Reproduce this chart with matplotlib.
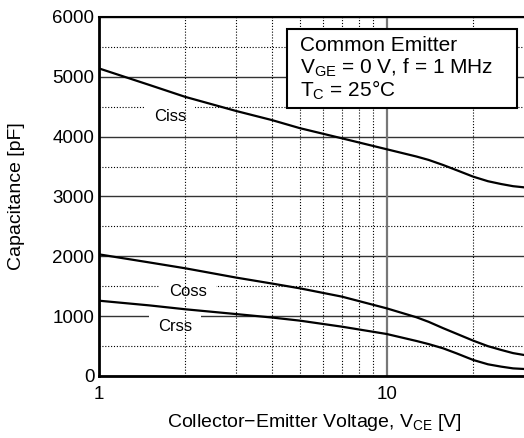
import numpy as np
import matplotlib
matplotlib.use('Agg')
import matplotlib.pyplot as plt
from matplotlib.patches import Rectangle
from matplotlib.ticker import FixedLocator, NullFormatter

plt.rcParams['font.family'] = ['Liberation Sans', 'DejaVu Sans']
plt.rcParams['mathtext.fontset'] = 'custom'
plt.rcParams['mathtext.rm'] = 'Liberation Sans'

# values
vce = [1, 1.5, 2, 3, 4, 5, 7, 10, 12.7, 14, 15.7, 17.5, 20, 22.5, 25, 27.5, 30]
ciss = [5143, 4865, 4665, 4430, 4277, 4142, 3972, 3790, 3668, 3611, 3527,
        3440, 3331, 3255, 3208, 3172, 3153]
coss = [2034, 1898, 1800, 1645, 1545, 1465, 1326, 1131, 981, 905, 800,
        706, 590, 498, 435, 382, 351]
crss = [1259, 1180, 1115, 1035, 977, 925, 824, 702, 585, 533, 463,
        378, 267, 195, 156, 127, 117]

labels = ['Ciss', 'Coss', 'Crss']
label_pos = [(1.77, 4329), (2.05, 1409), (1.846, 819)]

fig = plt.figure(figsize=(5.24, 4.38), dpi=100)
ax = fig.add_axes([0.188, 0.1416, 0.812, 0.8196])

for y in (ciss, coss, crss):
    ax.plot(vce, y, color='black', lw=1.6, zorder=3, solid_joinstyle='round')

ax.set_xscale('log')
ax.set_xlim(1, 30)
ax.set_ylim(0, 6000)

ax.xaxis.set_major_locator(FixedLocator([1, 10]))
ax.xaxis.set_minor_locator(FixedLocator([2, 3, 4, 5, 6, 7, 8, 9, 20]))
ax.set_xticklabels(['1', '10'])
ax.xaxis.set_minor_formatter(NullFormatter())
ax.set_yticks(np.arange(0, 6001, 1000))
ax.set_yticks(np.arange(500, 6000, 1000), minor=True)

ax.tick_params(which='both', length=0)
ax.tick_params(axis='x', pad=7, labelsize=13.5)
ax.tick_params(axis='y', pad=3, labelsize=13.5)

ax.grid(axis='y', which='major', color='#333333', lw=1.0, ls='-')
ax.grid(axis='y', which='minor', color='black', lw=0.8, ls=(0, (1, 1.6)))
ax.grid(axis='x', which='major', color='#777777', lw=1.6, ls='-')
ax.grid(axis='x', which='minor', color='black', lw=0.8, ls=(0, (1, 1.6)))
# horizontal grid behind the label boxes, vertical grid above them
ax.yaxis.set_zorder(0.5)
ax.xaxis.set_zorder(1.8)

for s in ('left', 'bottom'):
    ax.spines[s].set_linewidth(2)
ax.spines['top'].set_linewidth(1.5)
ax.spines['right'].set_visible(False)

for name, (lx, ly) in zip(labels, label_pos):
    ax.text(lx, ly, name, fontsize=12, ha='center', va='center', zorder=1.5,
            bbox=dict(boxstyle='square,pad=0.55', fc='white', ec='none'))

ax.set_xlabel('Collector\u2212Emitter Voltage, $\\mathrm{V_{CE}}$ [V]', fontsize=14)
ax.set_ylabel('Capacitance [pF]', fontsize=14)
ax.xaxis.set_label_coords(0.508, -0.1)
ax.yaxis.set_label_coords(-0.173, 0.5)

# condition box
ax.add_patch(Rectangle((0.4423, 0.7457), 0.542, 0.22, transform=ax.transAxes,
                       fc='white', ec='black', lw=1.5, zorder=5))
box_lines = ['Common Emitter',
             '$\\mathrm{V_{GE}}$ = 0 V, f = 1 MHz',
             '$\\mathrm{T_{C}}$ = 25\u00b0C']
for txt, by in zip(box_lines, [0.906, 0.843, 0.778]):
    ax.text(0.4736, by, txt, transform=ax.transAxes, fontsize=15,
            ha='left', va='baseline', zorder=6)

fig.savefig('out.png', dpi=100)
